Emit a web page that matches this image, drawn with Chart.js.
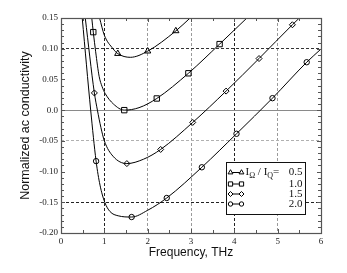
<!DOCTYPE html>
<html>
<head>
<meta charset="utf-8">
<script src="https://cdn.jsdelivr.net/npm/chart.js@4.4.0/dist/chart.umd.min.js"></script>
<style>
  html, body { margin: 0; padding: 0; background: #fff; }
  canvas { display: block; }
</style>
</head>
<body>
<canvas id="grafico" width="347" height="273"></canvas>
<script>
// curves: frequency (THz) and normalized ac conductivity
const freq05 = [0.89, 1.0, 1.2, 1.31, 1.6, 2.0, 2.65, 2.98];
const cond05 = [0.15, 0.122, 0.10, 0.092, 0.086, 0.096, 0.129, 0.15];
const markFreq05 = [1.31, 2.0, 2.65];
const markCond05 = [0.092, 0.096, 0.129];

const freq10 = [0.71, 0.745, 0.80, 0.88, 0.95, 1.02, 1.21, 1.46, 1.8, 2.21, 2.94, 3.66, 4.29];
const cond10 = [0.15, 0.127, 0.095, 0.055, 0.038, 0.027, 0.010, 0.0, 0.004, 0.019, 0.060, 0.1075, 0.15];
const markFreq10 = [0.745, 1.46, 2.21, 2.94, 3.66];
const markCond10 = [0.127, 0.0, 0.019, 0.060, 0.1075];

const freq15 = [0.56, 0.77, 0.84, 0.92, 1.0, 1.2, 1.52, 1.9, 2.30, 3.04, 3.81, 4.57, 5.34, 5.50];
const cond15 = [0.15, 0.028, 0.0, -0.028, -0.05, -0.075, -0.087, -0.080, -0.064, -0.020, 0.031, 0.084, 0.139, 0.15];
const markFreq15 = [0.77, 1.52, 2.30, 3.04, 3.81, 4.57, 5.34];
const markCond15 = [0.028, -0.087, -0.064, -0.020, 0.031, 0.084, 0.139];

const freq20 = [0.49, 0.685, 0.81, 0.9, 1.01, 1.13, 1.32, 1.63, 2.0, 2.44, 3.25, 4.05, 4.88, 5.67, 6.0];
const cond20 = [0.15, 0.0, -0.083, -0.122, -0.150, -0.165, -0.172, -0.174, -0.163, -0.143, -0.093, -0.0385, 0.0195, 0.078, 0.0995];
const markFreq20 = [0.81, 1.63, 2.44, 3.25, 4.05, 4.88, 5.67];
const markCond20 = [-0.083, -0.174, -0.143, -0.093, -0.0385, 0.0195, 0.078];

const ratios = ['0.5', '1.0', '1.5', '2.0'];

function pontos(xs, ys) {
    return xs.map((x, i) => ({ x: x, y: ys[i] }));
}

function curva(xs, ys) {
    return {
        data: pontos(xs, ys),
        borderColor: '#000',
        borderWidth: 1,
        pointRadius: 0,
        fill: false,
        cubicInterpolationMode: 'monotone'
    };
}

function marcas(xs, ys, estilo, raio) {
    return {
        data: pontos(xs, ys),
        showLine: false,
        pointStyle: estilo,
        pointRadius: raio,
        pointBackgroundColor: '#fff',
        pointBorderColor: '#000',
        pointBorderWidth: 1
    };
}

// x grid: 1 and 4 dark, 2,3,5 gray
function corGradeX(ctx) {
    const v = Math.round(ctx.tick.value);
    if (v === 1 || v === 4) return '#222';
    if (v === 2 || v === 3 || v === 5) return '#9a9a9a';
    return 'rgba(0,0,0,0)';
}

function corGradeY(ctx) {
    const v = Math.round(ctx.tick.value * 100);
    if (v === 10) return '#333';
    if (v === 0) return '#8a8a8a';
    if (v === -5) return '#b0b0b0';
    if (v === -15) return '#222';
    return 'rgba(0,0,0,0)';
}

const molduraPlugin = {
    id: 'moldura',
    afterDatasetsDraw(chart) {
        const ctx = chart.ctx;
        const a = chart.chartArea;
        const sx = chart.scales.x;
        const sy = chart.scales.y;
        ctx.save();
        ctx.strokeStyle = '#555';
        ctx.lineWidth = 1;
        ctx.beginPath();
        for (let i = 1; i < 12; i++) {
            const px = Math.round(sx.getPixelForValue(i * 0.5)) + 0.5;
            const len = i % 2 === 0 ? 4 : 3;
            ctx.moveTo(px, a.bottom);
            ctx.lineTo(px, a.bottom - len);
            ctx.moveTo(px, a.top);
            ctx.lineTo(px, a.top + len);
        }
        for (let i = -19; i < 15; i++) {
            const py = Math.round(sy.getPixelForValue(i / 100)) + 0.5;
            const len = i % 5 === 0 ? 4 : 3;
            ctx.moveTo(a.left, py);
            ctx.lineTo(a.left + len, py);
            ctx.moveTo(a.right, py);
            ctx.lineTo(a.right - len, py);
        }
        ctx.stroke();
        ctx.lineWidth = 1.2;
        ctx.strokeRect(Math.round(a.left) + 0.5, Math.round(a.top) + 0.5,
            Math.round(a.right - a.left), Math.round(a.bottom - a.top));
        ctx.restore();
    }
};

const legendaPlugin = {
    id: 'legenda',
    afterDraw(chart) {
        const ctx = chart.ctx;
        const a = chart.chartArea;
        const bx = Math.round(a.right - 95) + 0.5;
        const by = 162.5;
        const bw = 79, bh = 52;
        ctx.save();
        ctx.fillStyle = '#fff';
        ctx.fillRect(bx, by, bw, bh);
        ctx.strokeStyle = '#111';
        ctx.lineWidth = 1;
        ctx.strokeRect(bx, by, bw, bh);

        const estilos = [['triangle', 2.8], ['rect', 3], ['rectRot', 2.5], ['circle', 2.2]];
        const linhas = [172.5, 184, 194, 204];
        const x0 = bx + 4, x1 = bx + 15;
        linhas.forEach((y, i) => {
            ctx.strokeStyle = '#000';
            ctx.lineWidth = 1;
            ctx.beginPath();
            ctx.moveTo(x0, y);
            ctx.lineTo(x1, y);
            ctx.stroke();
            ctx.fillStyle = '#fff';
            const opt = { pointStyle: estilos[i][0], radius: estilos[i][1], borderWidth: 1, rotation: 0 };
            Chart.helpers.drawPoint(ctx, opt, x0, y);
            Chart.helpers.drawPoint(ctx, opt, x1, y);
        });

        ctx.fillStyle = '#111';
        ctx.textBaseline = 'middle';
        const fonte = '11px "Liberation Serif"';
        const fonteSub = '8px "Liberation Serif"';
        // first row: I_Ω / I_Q = 0.5
        let tx = bx + 19;
        const y0 = linhas[0];
        ctx.textAlign = 'left';
        ctx.font = fonte;
        ctx.fillText('I', tx, y0);
        tx += ctx.measureText('I').width;
        ctx.font = fonteSub;
        ctx.fillText('\u03A9', tx, y0 + 3.5);
        tx += ctx.measureText('\u03A9').width;
        ctx.font = fonte;
        ctx.fillText(' / I', tx, y0);
        tx += ctx.measureText(' / I').width;
        ctx.font = fonteSub;
        ctx.fillText('Q', tx, y0 + 3.5);
        tx += ctx.measureText('Q').width;
        ctx.font = fonte;
        ctx.fillText('=', tx, y0);
        ctx.textAlign = 'right';
        linhas.forEach((y, i) => {
            ctx.fillText(ratios[i], bx + bw - 3, y);
        });
        ctx.restore();
    }
};

new Chart(document.getElementById('grafico').getContext('2d'), {
    type: 'line',
    data: {
        datasets: [
            curva(freq05, cond05),
            marcas(markFreq05, markCond05, 'triangle', 3.6),
            curva(freq10, cond10),
            marcas(markFreq10, markCond10, 'rect', 3.8),
            curva(freq15, cond15),
            marcas(markFreq15, markCond15, 'rectRot', 3),
            curva(freq20, cond20),
            marcas(markFreq20, markCond20, 'circle', 2.7)
        ]
    },
    options: {
        responsive: false,
        animation: false,
        devicePixelRatio: 1,
        layout: { padding: { left: 0, top: 18, right: 26, bottom: 0 } },
        plugins: {
            legend: { display: false },
            tooltip: { enabled: false }
        },
        scales: {
            x: {
                type: 'linear',
                min: 0,
                max: 6,
                afterFit: (s) => { s.height = 40; },
                ticks: {
                    stepSize: 1,
                    maxRotation: 0,
                    padding: 3,
                    color: '#222',
                    font: { family: 'Liberation Serif', size: 9 },
                    callback: (v) => String(v)
                },
                grid: { color: corGradeX, drawTicks: false, lineWidth: 1 },
                border: { display: false, dash: [3, 2] },
                title: {
                    display: true,
                    text: 'Frequency, THz',
                    color: '#111',
                    font: { family: 'Liberation Sans', size: 12 },
                    padding: { top: 0, bottom: 13 }
                }
            },
            y: {
                type: 'linear',
                min: -0.2,
                max: 0.15,
                afterFit: (s) => { s.width = 61; },
                ticks: {
                    stepSize: 0.05,
                    padding: 3,
                    color: '#222',
                    font: { family: 'Liberation Serif', size: 9 },
                    callback: (v) => Math.abs(v) < 1e-9 ? '0.0' : v.toFixed(2)
                },
                grid: { color: corGradeY, drawTicks: false, lineWidth: 1 },
                border: {
                    display: false,
                    dash: (ctx) => Math.abs(ctx.tick.value) < 1e-9 ? [] : [3, 2]
                },
                title: {
                    display: true,
                    text: 'Normalized ac conductivity',
                    color: '#111',
                    font: { family: 'Liberation Sans', size: 12.5 },
                    padding: { top: 18, bottom: 0 }
                }
            }
        }
    },
    plugins: [molduraPlugin, legendaPlugin]
});
</script>
</body>
</html>
